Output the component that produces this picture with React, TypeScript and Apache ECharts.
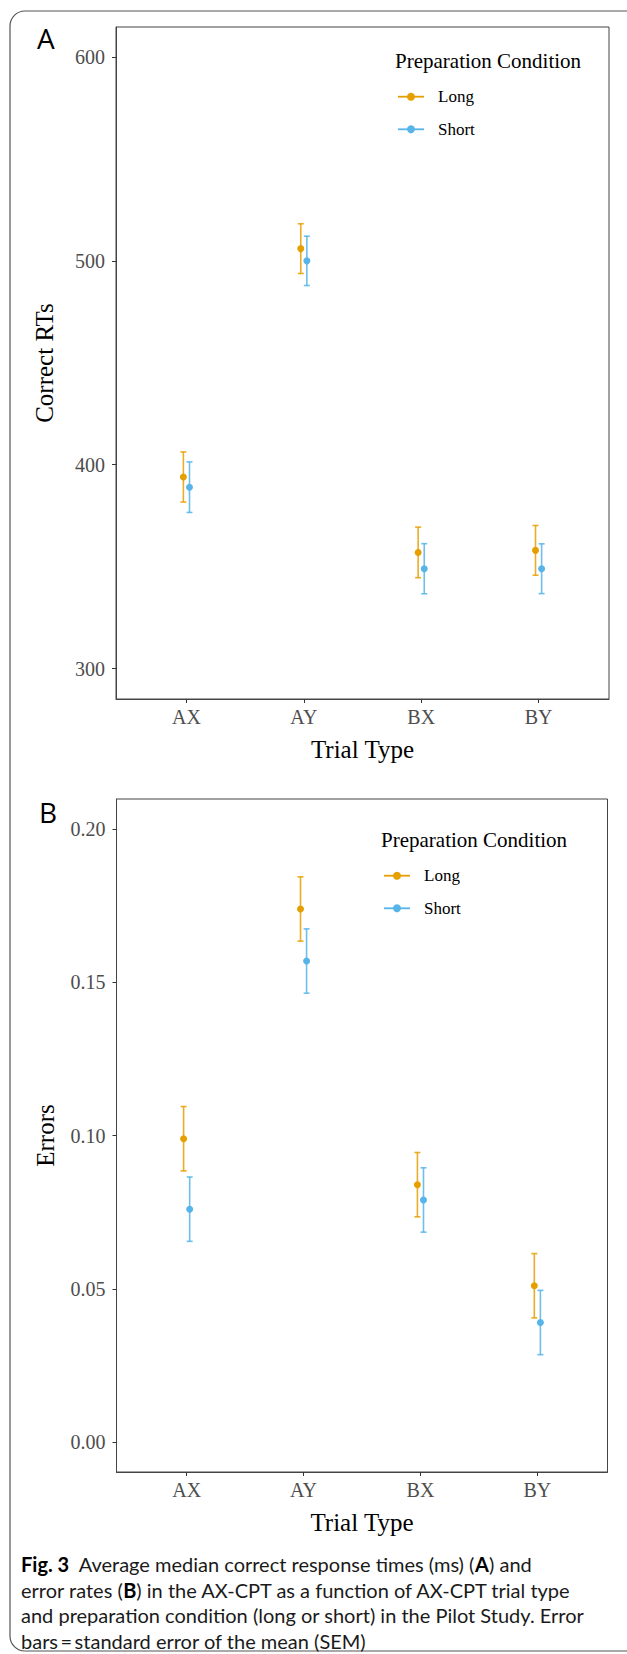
import React, { useEffect, useRef } from "react";
import * as echarts from "echarts";

// ---- data ----
const trialTypes = ["AX", "AY", "BX", "BY"];
const conditions = ["Long", "Short"];

const rtLong = [394, 506, 357, 358];
const rtLongSE = [12.3, 12.2, 12.4, 12.2];
const rtShort = [389, 500, 349, 349];
const rtShortSE = [12.4, 12.1, 12.3, 12.2];

const errLong = [0.099, 0.174, 0.084, 0.051];
const errLongSE = [0.0105, 0.0105, 0.0105, 0.0105];
const errShort = [0.076, 0.157, 0.079, 0.039];
const errShortSE = [0.0105, 0.0105, 0.0105, 0.0105];

const rtTicks = [300, 400, 500, 600];
const errTicks = [0, 0.05, 0.1, 0.15, 0.2];

const captionLines = [
  "{b|Fig. 3}  Average median correct response times (ms) ({b|A}) and",
  "error rates ({b|B}) in the AX-CPT as a function of AX-CPT trial type",
  "and preparation condition (long or short) in the Pilot Study. Error",
  "bars\u2009=\u2009standard error of the mean (SEM)",
];

// ---- styles ----
const COLORS = ["#E69F00", "#56B4E9"];
const SERIF = "'Liberation Serif', 'Times New Roman', serif";
const SANS = "Lato, 'Open Sans', sans-serif";
const DODGE = 0.026;

function axisX(gridIndex: number) {
  return {
    type: "value",
    gridIndex,
    min: 0.4,
    max: 4.6,
    splitLine: { show: false },
    axisLine: { show: true, onZero: false, lineStyle: { color: "#444", width: 1 } },
    axisTick: {
      show: true,
      customValues: [1, 2, 3, 4],
      length: 4,
      lineStyle: { color: "#333", width: 1 },
    },
    axisLabel: {
      customValues: [1, 2, 3, 4],
      formatter: (v: number) => trialTypes[Math.round(v) - 1] ?? "",
      fontFamily: SERIF,
      fontSize: 20,
      color: "#4d4d4d",
      margin: 8,
    },
    name: "Trial Type",
    nameLocation: "middle",
    nameGap: 38,
    nameTextStyle: { fontFamily: SERIF, fontSize: 25, color: "#000" },
  };
}

function axisY(gridIndex: number, min: number, max: number, ticks: number[], name: string, fmt: (v: number) => string) {
  return {
    type: "value",
    gridIndex,
    min,
    max,
    splitLine: { show: false },
    axisLine: { show: true, onZero: false, lineStyle: { color: "#444", width: 1 } },
    axisTick: {
      show: true,
      customValues: ticks,
      length: 4,
      lineStyle: { color: "#333", width: 1 },
    },
    axisLabel: {
      customValues: ticks,
      formatter: fmt,
      fontFamily: SERIF,
      fontSize: 20,
      color: "#4d4d4d",
      margin: 11,
    },
    name,
    nameLocation: "middle",
    nameRotate: 90,
    nameGap: 59,
    nameTextStyle: { fontFamily: SERIF, fontSize: 25, color: "#000" },
  };
}

function errorBarSeries(gridIndex: number, vals: number[], se: number[], ci: number) {
  const off = ci === 0 ? -DODGE : DODGE;
  return {
    type: "custom",
    name: conditions[ci] + " SEM",
    xAxisIndex: gridIndex,
    yAxisIndex: gridIndex,
    clip: false,
    silent: true,
    data: vals.map((v, i) => [i + 1 + off, v - se[i], v + se[i]]),
    encode: { x: 0, y: [1, 2] },
    renderItem: (_params: any, api: any) => {
      const x = api.value(0);
      const top = api.coord([x, api.value(2)]);
      const bot = api.coord([x, api.value(1)]);
      const st = { stroke: COLORS[ci], lineWidth: 1.6, opacity: 0.85 };
      return {
        type: "group",
        children: [
          { type: "line", shape: { x1: top[0], y1: top[1], x2: bot[0], y2: bot[1] }, style: st },
          { type: "line", shape: { x1: top[0] - 3, y1: top[1], x2: top[0] + 3, y2: top[1] }, style: st },
          { type: "line", shape: { x1: bot[0] - 3, y1: bot[1], x2: bot[0] + 3, y2: bot[1] }, style: st },
        ],
      };
    },
  };
}

function pointSeries(gridIndex: number, vals: number[], ci: number) {
  const off = ci === 0 ? -DODGE : DODGE;
  return {
    type: "scatter",
    name: conditions[ci],
    xAxisIndex: gridIndex,
    yAxisIndex: gridIndex,
    symbol: "circle",
    symbolSize: 7,
    itemStyle: { color: COLORS[ci], opacity: 1 },
    data: vals.map((v, i) => [i + 1 + off, v]),
    z: 5,
  };
}

function legendGraphics(titleX: number, titleY: number, iconX: number, textX: number, rowYs: number[]) {
  const els: any[] = [
    {
      type: "text",
      x: titleX,
      y: titleY,
      style: {
        text: "Preparation Condition",
        fontFamily: SERIF,
        fontSize: 21,
        fill: "#000",
        textAlign: "left",
        textVerticalAlign: "middle",
        align: "left",
        verticalAlign: "middle",
      },
    },
  ];
  rowYs.forEach((y, ci) => {
    els.push({
      type: "line",
      shape: { x1: iconX, y1: y, x2: iconX + 26, y2: y },
      style: { stroke: COLORS[ci], lineWidth: 1.8 },
    });
    els.push({
      type: "circle",
      shape: { cx: iconX + 13, cy: y, r: 4 },
      style: { fill: COLORS[ci] },
    });
    els.push({
      type: "text",
      x: textX,
      y,
      style: {
        text: conditions[ci],
        fontFamily: SERIF,
        fontSize: 17,
        fill: "#000",
        textAlign: "left",
        textVerticalAlign: "middle",
        align: "left",
        verticalAlign: "middle",
      },
    });
  });
  return els;
}

export default function App() {
  const ref = useRef<HTMLDivElement>(null);

  useEffect(() => {
    document.body.style.margin = "0";
    if (!ref.current) return;
    const chart = echarts.init(ref.current, null, { renderer: "svg" });

    const graphics: any[] = [
      {
        type: "rect",
        shape: { x: 10, y: 11, width: 640, height: 1640, r: 15 },
        style: { fill: "none", stroke: "#555", lineWidth: 1.2 },
        silent: true,
      },
      {
        type: "text",
        x: 37,
        y: 38,
        style: { text: "A", fontFamily: "'Open Sans', sans-serif", fontSize: 28, fill: "#000", textVerticalAlign: "middle", verticalAlign: "middle" },
      },
      {
        type: "text",
        x: 39,
        y: 812,
        style: { text: "B", fontFamily: "'Open Sans', sans-serif", fontSize: 28, fill: "#000", textVerticalAlign: "middle", verticalAlign: "middle" },
      },
      ...legendGraphics(395, 61, 398, 438, [96.7, 129.3]),
      ...legendGraphics(381, 840, 384, 424, [875.7, 908.3]),
    ];

    captionLines.forEach((line, k) => {
      graphics.push({
        type: "text",
        x: 21,
        y: 1564 + k * 25.5,
        style: {
          text: line,
          fontFamily: SANS,
          fontSize: 20,
          fill: "#1a1a1a",
          textVerticalAlign: "middle",
          verticalAlign: "middle",
          rich: {
            b: { fontFamily: SANS, fontSize: 20, fontWeight: "bold", fill: "#000" },
          },
        },
      });
    });

    chart.setOption({
      animation: false,
      backgroundColor: "#fff",
      grid: [
        { left: 116, top: 27, width: 493, height: 672, show: true, borderColor: "#444", borderWidth: 1 },
        { left: 116.5, top: 799, width: 491, height: 673, show: true, borderColor: "#444", borderWidth: 1 },
      ],
      xAxis: [axisX(0), axisX(1)],
      yAxis: [
        axisY(0, 285.1, 614.7, rtTicks, "Correct RTs", (v: number) => String(v)),
        axisY(1, -0.0098, 0.2099, errTicks, "Errors", (v: number) => v.toFixed(2)),
      ],
      series: [
        errorBarSeries(0, rtLong, rtLongSE, 0),
        errorBarSeries(0, rtShort, rtShortSE, 1),
        pointSeries(0, rtLong, 0),
        pointSeries(0, rtShort, 1),
        errorBarSeries(1, errLong, errLongSE, 0),
        errorBarSeries(1, errShort, errShortSE, 1),
        pointSeries(1, errLong, 0),
        pointSeries(1, errShort, 1),
      ],
      graphic: graphics,
    });

    return () => chart.dispose();
  }, []);

  return <div ref={ref} style={{ width: 627, height: 1654 }} />;
}
